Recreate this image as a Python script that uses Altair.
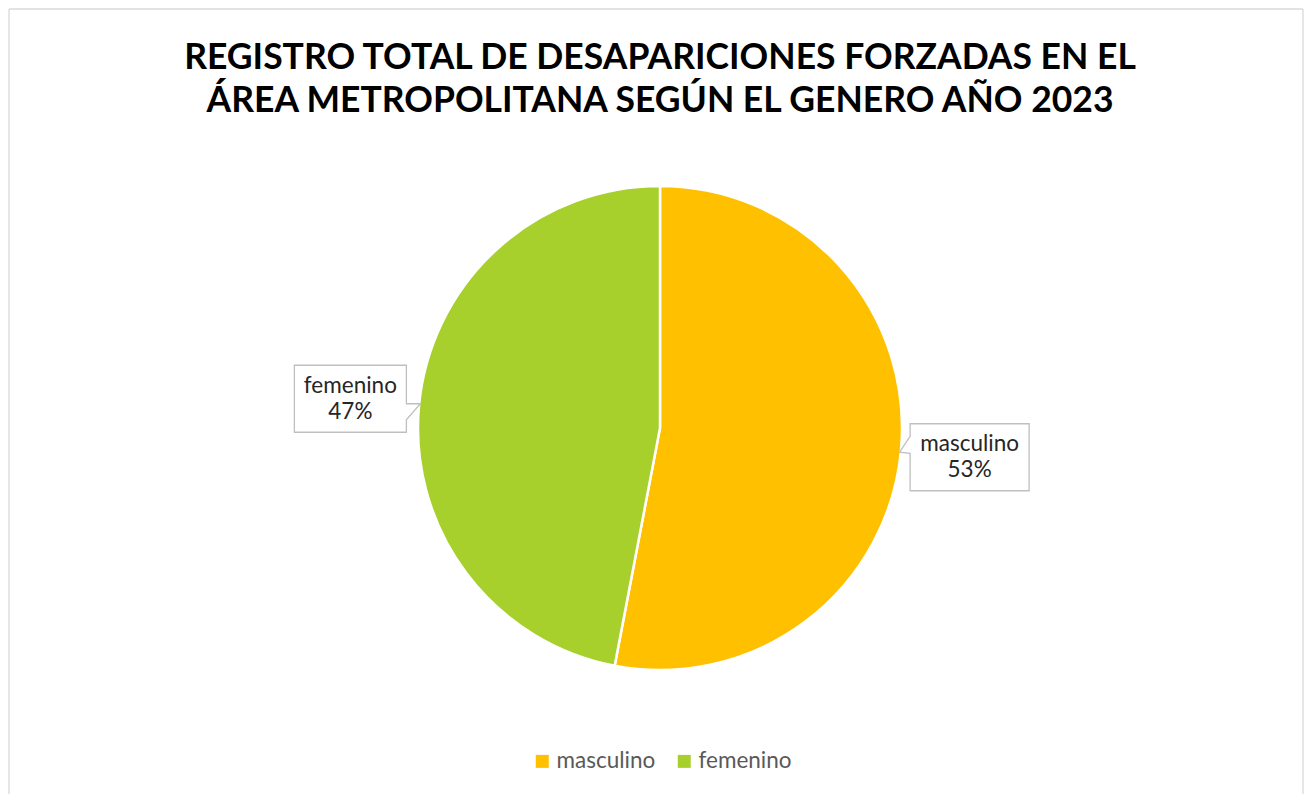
import math
import altair as alt
import pandas as pd

# ---- data ----
categories = ["masculino", "femenino"]
percentages = [53, 47]
colors = ["#FFC000", "#A8D02C"]
title_lines = [
    "REGISTRO TOTAL DE DESAPARICIONES FORZADAS EN EL",
    "ÁREA METROPOLITANA SEGÚN EL GENERO AÑO 2023",
]

# ---- layout ----
W, H = 1294, 786
CX, CY = 651, 419      # pie centre inside the view
R = 242                # pie radius
RL = 311               # distance of callouts from centre
SHAPE_R = 75
FONT = "Lato"
LABEL_SIZE = 22.5
FRAME = "#D9D9D9"

total = sum(percentages)
rows = []
cum = 0
for i, (c, p) in enumerate(zip(categories, percentages)):
    mid = (cum + p / 2) / total
    cum += p
    a = 2 * math.pi * mid
    dx = RL * math.sin(a)
    dy = -RL * math.cos(a)
    s = -1 if dx > 0 else 1  # pointer on the side facing the pie
    hw = 28 + 3.5 * len(c)
    hh = 33.5
    pts = [(-hw, -hh), (hw, -hh)]
    if s == 1:
        pts += [(hw, 5), (70, 5), (hw, 21)]
    pts += [(hw, hh), (-hw, hh)]
    if s == -1:
        pts += [(-hw, -4), (-70, -5), (-hw, -21)]
    path = "M" + " L".join(f"{x / SHAPE_R:.4f},{y / SHAPE_R:.4f}" for x, y in pts) + " Z"
    rows.append({"cat": c, "pct": p, "idx": i, "lx": dx, "ly": dy,
                 "label": f"{p}%", "path": path})
df = pd.DataFrame(rows)

xs = alt.Scale(domain=[-CX, W - CX], range=[0, W])
ys = alt.Scale(domain=[-CY, H - CY], range=[0, H])

base = alt.Chart(df)

pie = base.mark_arc(outerRadius=R, stroke="white", strokeWidth=2.5).encode(
    theta=alt.Theta("pct:Q", stack=True),
    order=alt.Order("idx:Q"),
    color=alt.Color(
        "cat:N",
        scale=alt.Scale(domain=categories, range=colors),
        legend=alt.Legend(
            title=None, orient="none", legendX=522, legendY=741,
            direction="horizontal", symbolType="square", symbolSize=169,
            symbolStrokeWidth=0, labelFontSize=LABEL_SIZE, labelColor="#595959",
            labelFont=FONT, columnPadding=17, labelOffset=3,
        ),
    ),
    x=alt.value(CX),
    y=alt.value(CY),
)

boxes = base.mark_point(
    filled=True, fill="white", stroke="#BFBFBF", strokeWidth=1.3,
    opacity=1, size=(2 * SHAPE_R) ** 2,
).encode(
    x=alt.X("lx:Q", scale=xs, axis=None),
    y=alt.Y("ly:Q", scale=ys, axis=None),
    shape=alt.Shape("path:N", scale=None, legend=None),
)

names = base.mark_text(font=FONT, fontSize=LABEL_SIZE, color="#262626", dy=-13).encode(
    x=alt.X("lx:Q", scale=xs, axis=None),
    y=alt.Y("ly:Q", scale=ys, axis=None),
    text="cat:N",
)
pcts = base.mark_text(font=FONT, fontSize=LABEL_SIZE, color="#262626", dy=13).encode(
    x=alt.X("lx:Q", scale=xs, axis=None),
    y=alt.Y("ly:Q", scale=ys, axis=None),
    text="label:N",
)

tdf = pd.DataFrame({"t": title_lines})
t1 = alt.Chart(tdf.iloc[[0]]).mark_text(
    font=FONT, fontSize=35.5, fontWeight="bold", color="#000000", baseline="alphabetic"
).encode(x=alt.value(CX), y=alt.value(60), text="t:N")
t2 = alt.Chart(tdf.iloc[[1]]).mark_text(
    font=FONT, fontSize=35.5, fontWeight="bold", color="#000000", baseline="alphabetic"
).encode(x=alt.value(CX), y=alt.value(103), text="t:N")

# chart frame: left, top and right edges (bottom runs off the picture)
fdf = pd.DataFrame({"k": [0]})
frame_left = alt.Chart(fdf).mark_rule(color=FRAME, strokeWidth=1.3).encode(
    x=alt.value(0), y=alt.value(0), y2=alt.value(H + 1))
frame_right = alt.Chart(fdf).mark_rule(color=FRAME, strokeWidth=1.3).encode(
    x=alt.value(W), y=alt.value(0), y2=alt.value(H + 1))
frame_top = alt.Chart(fdf).mark_rule(color=FRAME, strokeWidth=1.3).encode(
    x=alt.value(0), x2=alt.value(W), y=alt.value(0))

chart = alt.layer(frame_left, frame_right, frame_top, pie, boxes, names, pcts, t1, t2).properties(
    width=W, height=H,
    padding={"left": 1, "top": 1, "right": 1, "bottom": 1},
    autosize=alt.AutoSizeParams(type="none"),
).configure_view(stroke=None)

chart.save("out.html", embed_options={"renderer": "svg", "actions": False})
